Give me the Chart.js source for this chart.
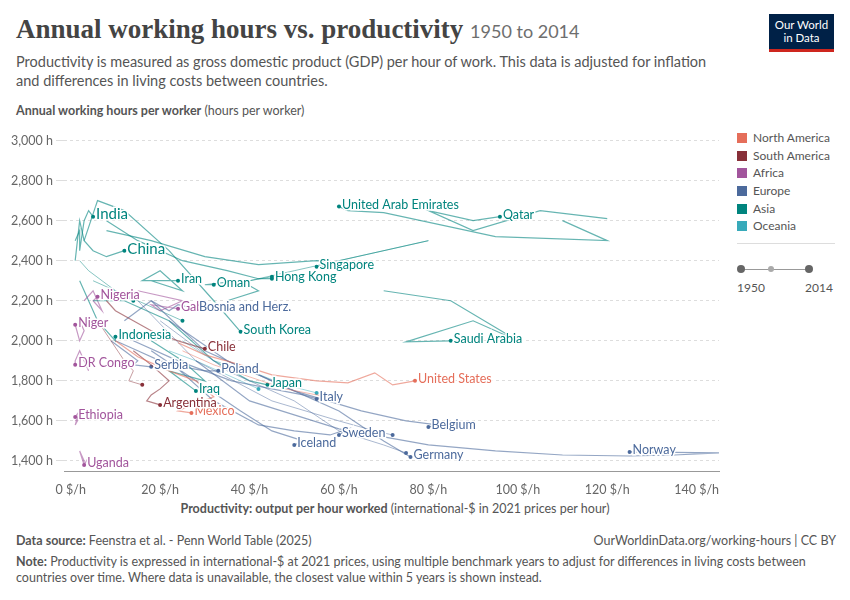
<!DOCTYPE html>
<html><head><meta charset="utf-8">
<script src="https://cdn.jsdelivr.net/npm/chart.js@4"></script>
<style>
body{margin:0;width:850px;height:600px;background:#fff;font-family:Lato,sans-serif;position:relative;overflow:hidden}
.a{position:absolute}
#title{left:16px;top:14px;font-family:"Liberation Serif",serif;font-size:27px;color:#444;font-weight:bold}
#title span{font-family:Lato;font-weight:normal;font-size:18px;color:#6e6e6e}
#sub{left:16px;top:52px;font-size:14.5px;color:#555;line-height:19px;width:715px}
#logo{left:769px;top:14px;width:65px;height:38px;background:#002147;color:#fff;font-size:11.5px;line-height:13px;text-align:center;padding-top:4px;box-sizing:border-box;border-bottom:3px solid #ce261e}
#ytitle{left:16px;top:103px;font-size:12.5px;color:#555}
#xtitle{left:0;width:790px;text-align:center;top:501px;font-size:12.5px;color:#555}
#leg{left:737px;top:130px;font-size:12px;color:#555}
#leg div{height:17.7px}
#leg i{display:inline-block;width:10px;height:10px;margin-right:6px;vertical-align:-1px}
#foot{left:16px;top:533px;font-size:12.5px;color:#555;line-height:16px;width:820px}
</style></head><body>
<div class="a" id="title">Annual working hours vs. productivity <span>1950 to 2014</span></div>
<div class="a" id="sub">Productivity is measured as gross domestic product (GDP) per hour of work. This data is adjusted for inflation and differences in living costs between countries.</div>
<div class="a" id="logo">Our World<br>in Data</div>
<div class="a" id="ytitle"><b>Annual working hours per worker</b> (hours per worker)</div>
<div class="a" id="xtitle"><b>Productivity: output per hour worked</b> (international-$ in 2021 prices per hour)</div>
<div class="a" id="leg"></div>
<div class="a" style="left:737px;top:243px;width:98px;border-top:1px solid #ddd"></div>
<div class="a" style="left:740px;top:269px;width:69px;border-top:1px solid #999"></div>
<div class="a" style="left:737px;top:265px;width:8px;height:8px;border-radius:50%;background:#666"></div>
<div class="a" style="left:768px;top:266px;width:6px;height:6px;border-radius:50%;background:#aaa"></div>
<div class="a" style="left:805px;top:265px;width:8px;height:8px;border-radius:50%;background:#666"></div>
<div class="a" style="left:737px;top:280px;font-size:12px;color:#555">1950</div>
<div class="a" style="left:805px;top:280px;font-size:12px;color:#555">2014</div>
<div class="a" id="foot"><div style="display:flex;justify-content:space-between"><span><b>Data source:</b> Feenstra et al. - Penn World Table (2025)</span><span>OurWorldinData.org/working-hours | CC BY</span></div><div style="margin-top:5px"><b>Note:</b> Productivity is expressed in international-$ at 2021 prices, using multiple benchmark years to adjust for differences in living costs between countries over time. Where data is unavailable, the closest value within 5 years is shown instead.</div></div>
<div class="a" style="left:0;top:120px;width:725px;height:380px"><canvas id="c"></canvas></div>
<script>
const regionNames=["North America","South America","Africa","Europe","Asia","Oceania"];
const regionColors=["#E56E5A","#883039","#A2559C","#4C6A9C","#00847E","#38AABA"];
const xTicks=[0,20,40,60,80,100,120,140];
const countries=["United States","Mexico","Canada","Argentina","Chile","Brazil","Norway","Germany","Belgium","Sweden","Iceland","Italy","Poland","Serbia","France","Netherlands","Japan","Iraq","Saudi Arabia","United Arab Emirates","Qatar","Singapore","Hong Kong","Oman","Iran","South Korea","Gabon","Bosnia and Herz.","Nigeria","Niger","DR Congo","Ethiopia","Uganda","India","China","Indonesia","Australia","New Zealand","Kuwait","Malaysia","Thailand"];
const regionOf=[0,0,0,1,1,1,3,3,3,3,3,3,3,3,3,3,4,4,4,4,4,4,4,4,4,4,2,3,2,2,2,2,2,4,4,4,5,5,4,4,4];
const labelled=[1,1,0,1,1,0,1,1,1,1,1,1,1,1,0,0,1,1,1,1,1,1,1,1,1,1,1,1,1,1,1,1,1,1,1,1,0,0,0,0,0];
const productivity=[
[24,30,38,45,55,62,68,72,77],[10,15,22,28,32,27,24,27],[25,32,40,48,55,60],[14,18,22,20,18,17,20],[8,10,14,18,24,30],[6,9,12,14,13,16],
[28,40,60,80,95,110,125,135,145,125],[18,30,45,60,70,76],[22,35,50,65,75,82,80],[22,32,42,50,58,62,60],[18,28,38,45,52,50],[14,24,36,45,52,55],[10,15,20,25,30,33],[9,12,15,14,18],[15,28,45,60,68,72],[20,35,50,60,70,75],
[5,12,22,32,40,44],[18,25,30,22,28],[70,85,100,90,75,85],[110,120,95,70,62,60],[120,105,90,80,90,96],[8,18,30,42,55,62,55],[8,15,25,35,42,45],[35,42,38,30,32],[18,25,20,16,24],[3,6,12,22,32,38],[15,25,20,18,24],[12,18,22,24,28],[3,5,7,5,6],[2,3,2,1,1],[4,3,2,1,1],[1,2,1,2,1],[4,3,2,3,3],[1,2,2,3,4,5],[1,2,3,5,8,12],[2,4,6,8,10,10],[25,32,40,48,55],[22,28,33,38,42],[60,80,50,40,45],[5,10,15,20,25],[2,4,7,10,14]
];
const hours=[
[1990,1930,1880,1830,1800,1790,1840,1780,1800],[2000,1920,1850,1800,1720,1680,1650,1640],[1950,1880,1820,1760,1730,1710],[1950,1880,1800,1760,1730,1700,1680],[2200,2150,2100,2050,2000,1960],[2100,2000,1900,1850,1800,1780],
[1900,1700,1560,1480,1450,1430,1425,1430,1440,1445],[2200,1950,1800,1650,1500,1420],[2100,1900,1750,1650,1600,1580,1570],[1900,1700,1580,1550,1530,1560,1530],[1950,1800,1650,1550,1500,1480],[2000,1900,1800,1760,1730,1710],[2000,1950,1900,1870,1850,1850],[2000,1950,1900,1880,1870],[2200,1900,1700,1600,1550,1530],[2100,1850,1700,1550,1480,1440],
[2200,2200,2100,1900,1800,1780],[2000,1900,1800,1850,1750],[2250,2200,2000,2100,1995,2000],[2600,2500,2520,2640,2650,2670],[2610,2650,2550,2650,2600,2620],[2550,2500,2420,2380,2400,2380,2370],[2600,2500,2400,2350,2310,2310],[2200,2250,2300,2280,2280],[2300,2250,2350,2300,2300],[2500,2700,2650,2450,2200,2045],[2250,2200,2150,2180,2160],[2100,2200,2150,2180,2160],[2200,2250,2150,2200,2220],[2100,2050,2000,2080,2080],[1850,1900,1950,1900,1880],[1600,1620,1580,1650,1620],[1420,1380,1450,1400,1380],[2500,2550,2450,2600,2650,2620],[2400,2600,2500,2450,2420,2450],[2300,2200,2100,2050,2000,2020],[2000,1900,1850,1780,1740],[1950,1900,1850,1800,1760],[2400,2500,2350,2300,2320],[2300,2250,2200,2150,2100],[2400,2350,2300,2250,2200]
];
document.getElementById('leg').innerHTML=regionNames.map((n,i)=>`<div><i style="background:${regionColors[i]}"></i>${n}</div>`).join('');
const datasets=countries.map((n,i)=>{const c=regionColors[regionOf[i]];const d=productivity[i].map((x,j)=>({x,y:hours[i][j]}));
return{label:n,data:d,borderColor:c+'99',borderWidth:labelled[i]?1.2:0.8,pointRadius:d.map((_,j)=>j===d.length-1?2:0),pointBackgroundColor:c,pointBorderWidth:0,showLine:true,tension:0,lab:labelled[i],col:c};});
const labels={id:'labels',afterDatasetsDraw(ch){const g=ch.ctx;g.save();g.textBaseline='middle';
ch.data.datasets.forEach((ds,i)=>{if(!ds.lab)return;const m=ch.getDatasetMeta(i);const p=m.data[m.data.length-1];
const big=(ds.label==='India'||ds.label==='China');g.font=(big?15:12.5)+'px Lato';g.fillStyle=ds.col;
g.strokeStyle='#fff';g.lineWidth=3;g.strokeText(ds.label,p.x+3,p.y-2);g.fillText(ds.label,p.x+3,p.y-2);});g.restore();}};
new Chart(document.getElementById('c'),{type:'scatter',data:{datasets},plugins:[labels],
options:{responsive:true,maintainAspectRatio:false,animation:false,layout:{padding:{top:5,right:6,left:8}},
plugins:{legend:{display:false},tooltip:{enabled:false}},
scales:{x:{type:'linear',min:-1.5,max:145,afterBuildTicks:s=>{s.ticks=xTicks.map(v=>({value:v}));},border:{display:true,color:'#999'},grid:{display:false},ticks:{color:'#666',font:{family:'Lato',size:12.5},callback:v=>v+' $/h'}},
y:{type:'linear',min:1350,max:3050,border:{display:false,dash:[3,3]},grid:{color:'#ddd',borderDash:[3,3]},ticks:{stepSize:200,color:'#666',font:{family:'Lato',size:12.5},callback:v=>v.toLocaleString('en-US')+' h',includeBounds:false}}}}});
</script></body></html>
